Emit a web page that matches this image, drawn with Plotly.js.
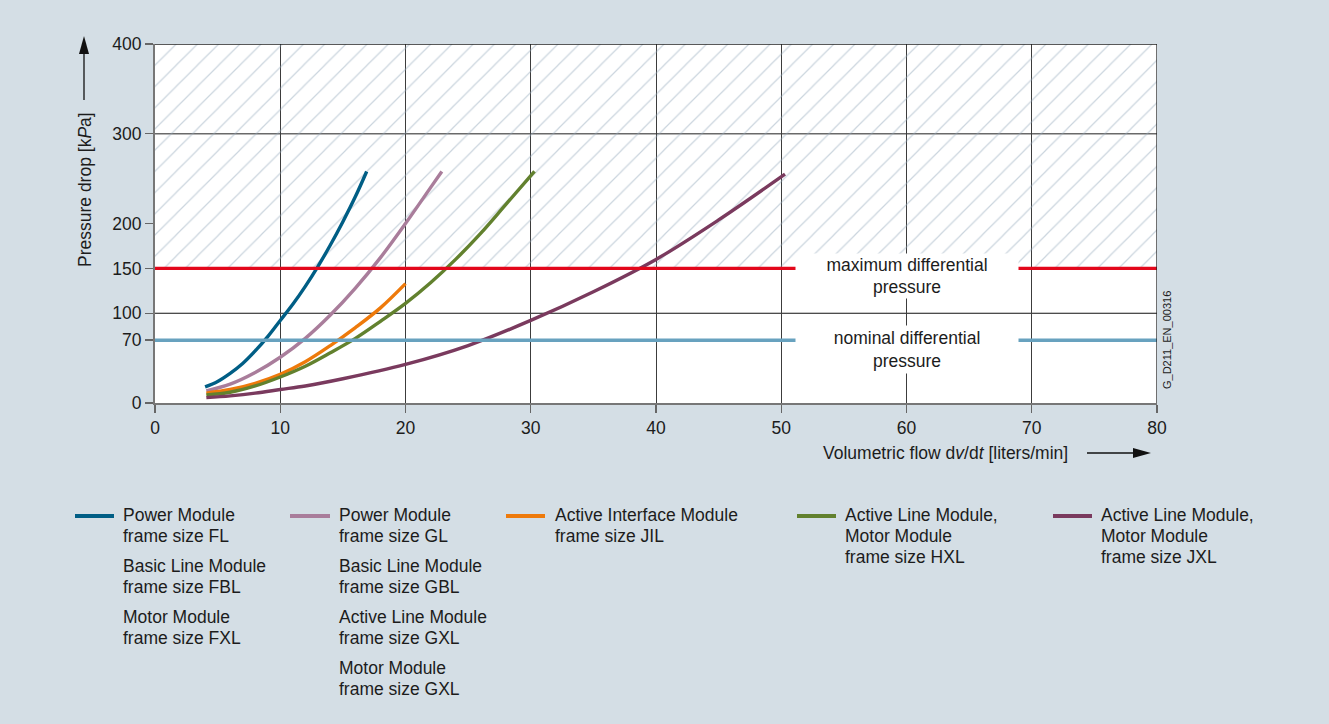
<!DOCTYPE html>
<html>
<head>
<meta charset="utf-8">
<script src="https://cdn.plot.ly/plotly-3.0.1.min.js"></script>
<style>
  html, body { margin: 0; padding: 0; background: #d4dee5; }
  #chart { width: 1329px; height: 724px; }
</style>
</head>
<body>
<div id="chart"></div>
<script>
// ---------------- DATA ----------------
const xFL  = [4.0, 5, 6, 7, 8, 9, 10, 11, 12, 13, 14, 15, 16, 16.9];
const yFL  = [18, 24, 33, 44, 58, 74, 92, 110, 130, 152, 176, 202, 230, 258];

const xGL  = [4.1, 6, 8, 10, 12, 14, 16, 18, 20, 22, 22.9];
const yGL  = [13.5, 21, 34, 51, 72, 98, 128, 162, 200, 240, 258];

const xJIL = [4.1, 6, 8, 10, 12, 14, 16, 18, 20];
const yJIL = [11, 15, 22, 32, 46, 64, 84, 106, 133];

const xHXL = [4.1, 6, 8, 10, 12, 14, 16, 18, 20, 22, 24, 26, 28, 30.3];
const yHXL = [9, 12, 19, 29, 41, 56, 72, 91, 111, 134, 160, 189, 221, 258];

const xJXL = [4.1, 6, 8, 10, 12, 15, 20, 25, 30, 35, 40, 45, 50.3];
const yJXL = [6, 8, 11, 15, 19, 27, 43, 64, 92, 124, 160, 204, 255];

const seriesNames = ["Power Module frame size FL", "Power Module frame size GL",
  "Active Interface Module frame size JIL", "Active Line Module, Motor Module frame size HXL",
  "Active Line Module, Motor Module frame size JXL"];

// legend groups (one column per series)
const legendGroups = [
  [["Power Module", "frame size FL"], ["Basic Line Module", "frame size FBL"], ["Motor Module", "frame size FXL"]],
  [["Power Module", "frame size GL"], ["Basic Line Module", "frame size GBL"], ["Active Line Module", "frame size GXL"], ["Motor Module", "frame size GXL"]],
  [["Active Interface Module", "frame size JIL"]],
  [["Active Line Module,", "Motor Module", "frame size HXL"]],
  [["Active Line Module,", "Motor Module", "frame size JXL"]]
];

const xTicks = [0, 10, 20, 30, 40, 50, 60, 70, 80];
const yTicks = [0, 70, 100, 150, 200, 300, 400];
const maxPressure = 150;
const nominalPressure = 70;
const hatchTop = 400;
const xMax = 80;
const maxLabel = "maximum differential<br>pressure";
const nomLabel = "nominal differential<br>pressure";
const yTitle = "Pressure drop [k<i>P</i>a]";
const xTitle = "Volumetric flow d<i>v</i>/d<i>t</i> [liters/min]";
const docId = "G_D211_EN_00316";

// ---------------- STYLE ----------------
const colors = ["#005e85", "#a97d9b", "#ee7a0b", "#62812e", "#7a3a5e"];
const FONT = "Liberation Sans, Arial, Helvetica, sans-serif";
const TXT = "#1c1c1c";
const FS = 17.5;

const W = 1329, H = 724;
const L = 155, R = 1157, T = 44, B = 403;
const px = v => (v - L) / (R - L);
const py = v => (B - v) / (B - T);

const xs = [xFL, xGL, xJIL, xHXL, xJXL];
const ys = [yFL, yGL, yJIL, yHXL, yJXL];

const traces = [];
// hatched "not allowed" region
traces.push({
  x: [0, xMax, xMax, 0, 0],
  y: [maxPressure, maxPressure, hatchTop, hatchTop, maxPressure],
  mode: "lines", line: {width: 0, color: "rgba(0,0,0,0)"},
  fill: "toself", fillcolor: "rgba(0,0,0,0)",
  fillpattern: {shape: "/", fgcolor: "#97abbd", bgcolor: "rgba(0,0,0,0)", size: 15, solidity: 0.08, fillmode: "overlay"},
  hoverinfo: "skip", showlegend: false
});
for (let i = 0; i < xs.length; i++) {
  traces.push({
    x: xs[i], y: ys[i], name: seriesNames[i], mode: "lines",
    line: {color: colors[i], width: 3.4, shape: "spline", smoothing: 1},
    showlegend: false
  });
}

const shapes = [
  {type: "line", xref: "x", yref: "y", x0: 0, x1: xMax, y0: 300, y1: 300, line: {color: "#6a6a6a", width: 1.4}, layer: "below"},
  {type: "line", xref: "x", yref: "y", x0: 0, x1: xMax, y0: 100, y1: 100, line: {color: "#111", width: 1.2}, layer: "below"},
  {type: "line", xref: "x", yref: "y", x0: 0, x1: xMax, y0: maxPressure, y1: maxPressure, line: {color: "#e3071b", width: 3.4}},
  {type: "line", xref: "x", yref: "y", x0: 0, x1: xMax, y0: nominalPressure, y1: nominalPressure, line: {color: "#68a2bf", width: 3.4}},
  {type: "line", xref: "x", yref: "y", x0: 0, x1: xMax, y0: hatchTop, y1: hatchTop, line: {color: "#222", width: 1.3}},
  {type: "line", xref: "x", yref: "y", x0: xMax, x1: xMax, y0: 0, y1: hatchTop, line: {color: "#222", width: 1.3}},
  {type: "line", xref: "paper", yref: "paper", x0: px(84), x1: px(84), y0: py(53), y1: py(100), line: {color: "#111", width: 1.3}},
  {type: "path", xref: "paper", yref: "paper",
   path: `M ${px(84)},${py(36)} L ${px(79)},${py(54)} L ${px(89)},${py(54)} Z`, fillcolor: "#111", line: {width: 0}},
  {type: "line", xref: "paper", yref: "paper", x0: px(1087), x1: px(1134), y0: py(453), y1: py(453), line: {color: "#111", width: 1.3}},
  {type: "path", xref: "paper", yref: "paper",
   path: `M ${px(1151)},${py(453)} L ${px(1133)},${py(448)} L ${px(1133)},${py(458)} Z`, fillcolor: "#111", line: {width: 0}}
];

const annotations = [
  {xref: "x", yref: "y", x: 60, y: 141, text: maxLabel, showarrow: false,
   bgcolor: "#ffffff", width: 222, height: 44, borderpad: 0, align: "center", valign: "middle",
   font: {family: FONT, size: FS, color: TXT}},
  {xref: "x", yref: "y", x: 60, y: 60, text: nomLabel, showarrow: false,
   bgcolor: "#ffffff", width: 222, height: 47, borderpad: 0, align: "center", valign: "middle",
   font: {family: FONT, size: FS, color: TXT}},
  {xref: "paper", yref: "paper", x: px(85), y: py(190), text: yTitle, textangle: -90, showarrow: false,
   xanchor: "center", yanchor: "middle", font: {family: FONT, size: FS, color: TXT}},
  {xref: "paper", yref: "paper", x: px(821), y: py(453), text: xTitle, showarrow: false,
   xanchor: "left", yanchor: "middle", font: {family: FONT, size: FS, color: TXT}},
  {xref: "paper", yref: "paper", x: px(1167), y: py(340), text: docId, textangle: -90, showarrow: false,
   xanchor: "center", yanchor: "middle", font: {family: FONT, size: 11, color: TXT}}
];

// custom legend
const legLineX = [[75, 114], [290, 330], [506, 545], [797, 836], [1053, 1092]];
const legTextX = [121, 337, 553, 843, 1099];
const rowY0 = 515, lineGap = 21, groupGap = 51;
for (let c = 0; c < legendGroups.length; c++) {
  shapes.push({type: "line", xref: "paper", yref: "paper",
    x0: px(legLineX[c][0]), x1: px(legLineX[c][1]), y0: py(516), y1: py(516),
    line: {color: colors[c], width: 4.2}});
  legendGroups[c].forEach((grp, g) => {
    grp.forEach((ln, k) => {
      annotations.push({xref: "paper", yref: "paper", x: px(legTextX[c]), y: py(rowY0 + g * groupGap + k * lineGap),
        text: ln, showarrow: false, xanchor: "left", yanchor: "middle",
        font: {family: FONT, size: FS, color: TXT}});
    });
  });
}

const layout = {
  width: W, height: H,
  margin: {l: L, r: W - R, t: T, b: H - B, pad: 0},
  paper_bgcolor: "#d4dee5",
  plot_bgcolor: "#ffffff",
  font: {family: FONT, size: FS, color: TXT},
  showlegend: false,
  xaxis: {
    range: [0, xMax], tickvals: xTicks, ticktext: xTicks.map(String),
    showgrid: true, gridcolor: "#3c3c3c", gridwidth: 1,
    zeroline: false, showline: true, linecolor: "#777", linewidth: 2,
    ticks: "outside", ticklen: 8, tickcolor: "#666", tickwidth: 1.4,
    tickfont: {family: FONT, size: FS, color: TXT}, fixedrange: true
  },
  yaxis: {
    range: [0, 400], tickvals: yTicks, ticktext: yTicks.map(String),
    showgrid: false, zeroline: false, showline: true, linecolor: "#777", linewidth: 2,
    ticks: "outside", ticklen: 8, tickcolor: "#666", tickwidth: 1.4,
    tickfont: {family: FONT, size: FS, color: TXT}, fixedrange: true
  },
  shapes: shapes,
  annotations: annotations
};

Plotly.newPlot("chart", traces, layout, {displayModeBar: false, staticPlot: true});
</script>
</body>
</html>
